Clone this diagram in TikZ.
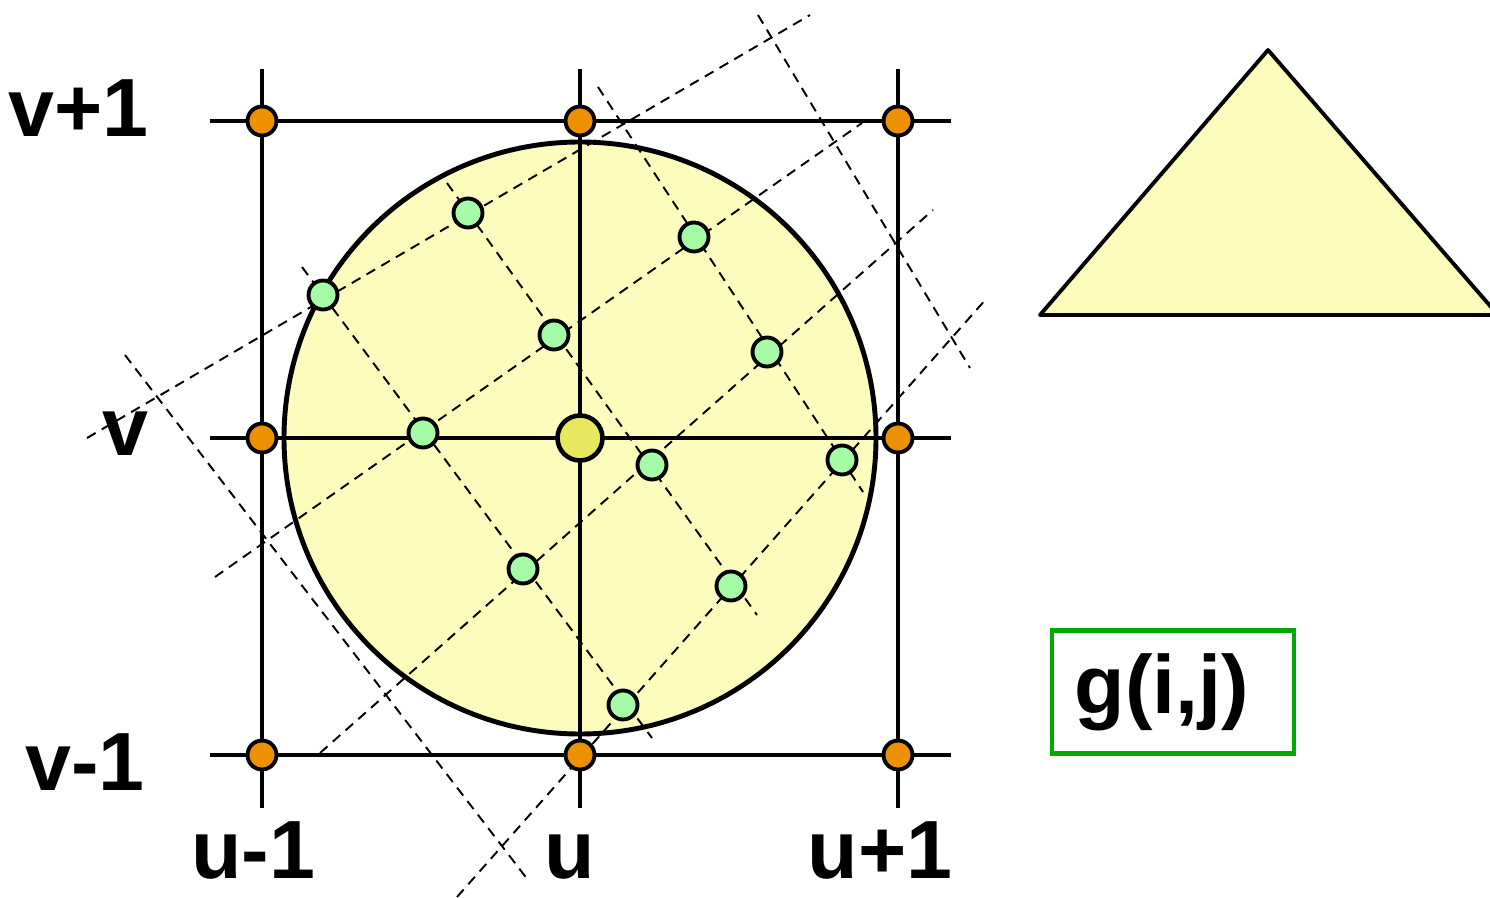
\documentclass[tikz,border=0pt]{standalone}
\usepackage{fontspec}
\setmainfont{Liberation Sans}
\definecolor{discfill}{RGB}{252,252,188}
\definecolor{knotorange}{RGB}{238,145,0}
\definecolor{samplegreen}{RGB}{166,252,166}
\definecolor{centeryellow}{RGB}{232,232,96}
\definecolor{boxgreen}{RGB}{0,170,0}
\begin{document}
\begin{tikzpicture}[x=0.02cm, y=-0.02cm,
    gridline/.style={line width=2.6pt},
    rotline/.style={line width=1.1pt, dash pattern=on 5.7pt off 4pt},
    knot/.style={draw, circle, line width=2.2pt, fill=knotorange, minimum size=0.58cm, inner sep=0pt},
    sample/.style={draw, circle, line width=2.2pt, fill=samplegreen, minimum size=0.58cm, inner sep=0pt},
    axislabel/.style={font=\fontsize{47}{56}\selectfont\bfseries, inner sep=0pt}]

    \clip (0,0) rectangle (1490,898);

    \draw[line width=2.8pt, fill=discfill] (580,438) circle (296);

    \foreach \sx/\sy/\ex/\ey in {87/438/810/15, 215/577/862/123, 320/753/933/210, 457/897/987/298,
        125/355/528/880, 302/267/652/738, 447/183/757/615, 598/87/863/492, 758/15/970/368}
        \draw[rotline] (\sx,\sy) -- (\ex,\ey);

    \foreach \x in {262,580,898}
        \draw[gridline] (\x,69) -- (\x,808);
    \foreach \y in {121,438,755}
        \draw[gridline] (210,\y) -- (951,\y);

    \node[knot] (k00) at (262,121) {};
    \node[knot] (k10) at (580,121) {};
    \node[knot] (k20) at (898,121) {};
    \node[knot] (k01) at (262,438) {};
    \node[knot] (k21) at (898,438) {};
    \node[knot] (k02) at (262,755) {};
    \node[knot] (k12) at (580,755) {};
    \node[knot] (k22) at (898,755) {};
    \node[draw, circle, line width=2.6pt, fill=centeryellow, minimum size=0.9cm, inner sep=0pt] (center) at (580,438) {};

    \foreach \p [count=\n] in {(323,295), (468,213), (694,237), (554,335), (767,352), (423,433),
        (652,465), (842,460), (523,569), (731,586), (623,705)}
        \node[sample] (s\n) at \p {};

    \node[axislabel, anchor=base east] (vtop) at (149,137) {v+1};
    \node[axislabel, anchor=base east] (vmid) at (149,455) {v};
    \node[axislabel, anchor=base east] (vbot) at (145,790) {v-1};
    \node[axislabel, anchor=base] (uleft) at (253,878) {u-1};
    \node[axislabel, anchor=base] (umid) at (570,878) {u};
    \node[axislabel, anchor=base] (uright) at (880,878) {u+1};

    \draw[line width=2.2pt, fill=discfill, line join=round] (1040,315) -- (1268,50) -- (1498,315) -- cycle;

    \node[draw=boxgreen, line width=2.6pt, minimum width=4.84cm, minimum height=2.46cm] (gbox) at (1173,692) {};
    \node[axislabel] (gtext) at ([xshift=-0.22cm]gbox.center) {g(i,j)};
\end{tikzpicture}
\end{document}
